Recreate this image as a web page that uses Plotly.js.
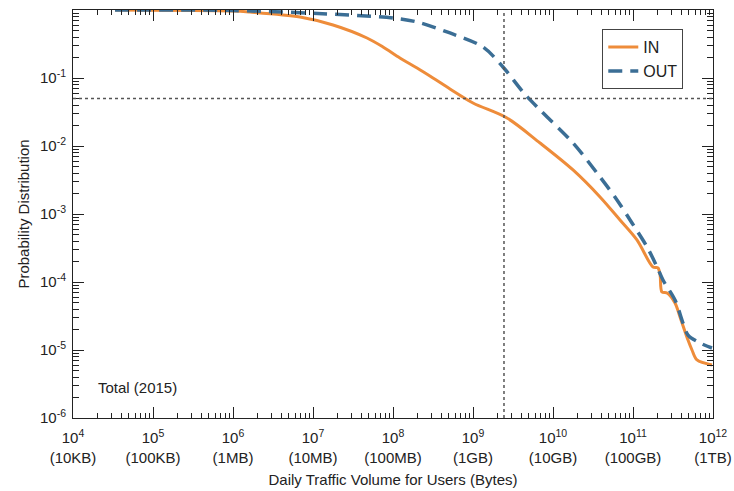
<!DOCTYPE html>
<html>
<head>
<meta charset="utf-8">
<script src="https://cdn.plot.ly/plotly-3.0.1.min.js"></script>
<style>html,body{margin:0;padding:0;background:#fff;}#chart{width:734px;height:491px;}</style>
</head>
<body>
<div id="chart"></div>
<script>
// Daily traffic volume (bytes) and CCDF values
const inX = [3.35e4, 1e6, 1.63e6, 6.88e6, 1.78e7, 4.73e7, 7.5e7, 1.22e8, 2.0e8, 3.16e8, 5.16e8, 1e9, 2.66e9, 6.88e9, 1.78e10, 3.87e10, 6.88e10, 1.12e11, 1.78e11, 2.05e11, 2.18e11, 2.30e11, 2.66e11, 3.35e11, 3.87e11, 4.87e11, 5.46e11, 6.31e11, 9.72e11];
const inY = [1.0, 0.967, 0.934, 0.789, 0.602, 0.3875, 0.2856, 0.197, 0.140, 0.100, 0.0689, 0.0429, 0.0258, 0.01107, 0.00444, 0.00178, 8.16e-4, 4.15e-4, 1.66e-4, 1.61e-4, 1.27e-4, 7.13e-5, 6.89e-5, 4.91e-5, 3.06e-5, 1.40e-5, 1.0e-5, 7.13e-6, 6.01e-6];
const outX = [3.35e4, 1e6, 2.9e7, 1e8, 2e8, 4.73e8, 1.33e9, 2.37e9, 4.22e9, 6.88e9, 1.78e10, 3.87e10, 6.31e10, 9.72e10, 1.5e11, 2.0e11, 2.37e11, 3.35e11, 4.22e11, 4.87e11, 6.88e11, 9.72e11];
const outY = [1.0, 0.983, 0.844, 0.763, 0.667, 0.475, 0.286, 0.145, 0.0622, 0.0339, 0.01107, 0.0035, 0.00161, 7.38e-4, 3.27e-4, 1.66e-4, 1.07e-4, 5.43e-5, 2.49e-5, 1.66e-5, 1.27e-5, 1.07e-5];
const seriesNames = ["IN", "OUT"];
const xTickVals = [1e4, 1e5, 1e6, 1e7, 1e8, 1e9, 1e10, 1e11, 1e12];
const xTickText = ["10<sup>4</sup><br>(10KB)", "10<sup>5</sup><br>(100KB)", "10<sup>6</sup><br>(1MB)", "10<sup>7</sup><br>(10MB)", "10<sup>8</sup><br>(100MB)", "10<sup>9</sup><br>(1GB)", "10<sup>10</sup><br>(10GB)", "10<sup>11</sup><br>(100GB)", "10<sup>12</sup><br>(1TB)"];
const yTickVals = [1e-6, 1e-5, 1e-4, 1e-3, 1e-2, 1e-1, 1];
const yTickText = ["10<sup>-6</sup>", "10<sup>-5</sup>", "10<sup>-4</sup>", "10<sup>-3</sup>", "10<sup>-2</sup>", "10<sup>-1</sup>", "10<sup>0</sup>"];
const refX = 2.44e9;
const refY = 0.05;
const noteText = "Total (2015)";

// minor tick positions: 2..9 within each decade of the tick list
function minorTicks(decades) {
  const out = [];
  for (let i = 0; i < decades.length - 1; i++) {
    for (let k = 2; k <= 9; k++) out.push(decades[i] * k);
  }
  return out;
}

const font = "Liberation Sans, Arial, sans-serif";
const traces = [
  {x: inX, y: inY, name: seriesNames[0], mode: "lines", line: {color: "#EE8C3A", width: 3, shape: "spline", smoothing: 0.9}},
  {x: outX, y: outY, name: seriesNames[1], mode: "lines", line: {color: "#3B6E95", width: 3.5, dash: "14px,8px", shape: "spline", smoothing: 0.9}},
  // invisible copy on the mirrored axes so the top/right frame gets its minor ticks
  {x: inX, y: inY, xaxis: "x2", yaxis: "y2", mode: "lines", opacity: 0, showlegend: false, hoverinfo: "skip", line: {width: 0}}
];
function axis(extra) {
  return Object.assign({
    type: "log", showline: true, linecolor: "#222", linewidth: 1,
    ticks: "inside", ticklen: 11, tickcolor: "#222", tickwidth: 1, showgrid: false, zeroline: false,
    tickmode: "array", tickfont: {family: font, size: 15, color: "#222"}
  }, extra);
}
const xMinor = {tickmode: "array", tickvals: minorTicks(xTickVals), ticks: "inside", ticklen: 5, tickcolor: "#222", showgrid: false};
const yMinor = {tickmode: "array", tickvals: minorTicks(yTickVals), ticks: "inside", ticklen: 6, tickcolor: "#222", showgrid: false};
const layout = {
  width: 734, height: 491,
  margin: {l: 73, r: 21, t: 10, b: 73},
  paper_bgcolor: "#fff", plot_bgcolor: "#fff",
  font: {family: font, color: "#222"},
  showlegend: true,
  legend: {x: 0.827, y: 0.953, xanchor: "left", yanchor: "top", bordercolor: "#444", borderwidth: 1,
           bgcolor: "#fff", font: {family: font, size: 16, color: "#222"}},
  xaxis: axis({range: [4, 12], tickvals: xTickVals, ticktext: xTickText, ticklabelstandoff: 6, minor: xMinor, mirror: "ticks",
    title: {text: "Daily Traffic Volume for Users (Bytes)", font: {family: font, size: 15, color: "#222"}, standoff: 9}}),
  yaxis: axis({range: [-6, 0], tickvals: yTickVals, ticktext: yTickText, ticklabelstandoff: 3, minor: yMinor, mirror: "ticks",
    title: {text: "Probability Distribution", font: {family: font, size: 15, color: "#222"}, standoff: 6}}),
  xaxis2: axis({range: [4, 12], tickvals: xTickVals, showticklabels: false, minor: xMinor, overlaying: "x", side: "top", anchor: "y2"}),
  yaxis2: axis({range: [-6, 0], tickvals: yTickVals, showticklabels: false, minor: yMinor, overlaying: "y", side: "right", anchor: "x2"}),
  shapes: [
    {type: "line", xref: "paper", x0: 0, x1: 1, yref: "y", y0: refY, y1: refY, line: {color: "#555", width: 1.5, dash: "dot"}},
    {type: "line", xref: "x", x0: refX, x1: refX, yref: "paper", y0: 0, y1: 1, line: {color: "#555", width: 1.5, dash: "dot"}}
  ],
  annotations: [
    {text: noteText, xref: "paper", yref: "paper", x: 0.036, y: 0.075, xanchor: "left", yanchor: "middle", showarrow: false,
     font: {family: font, size: 15, color: "#222"}}
  ]
};
Plotly.newPlot("chart", traces, layout, {displayModeBar: false, staticPlot: true});
</script>
</body>
</html>
